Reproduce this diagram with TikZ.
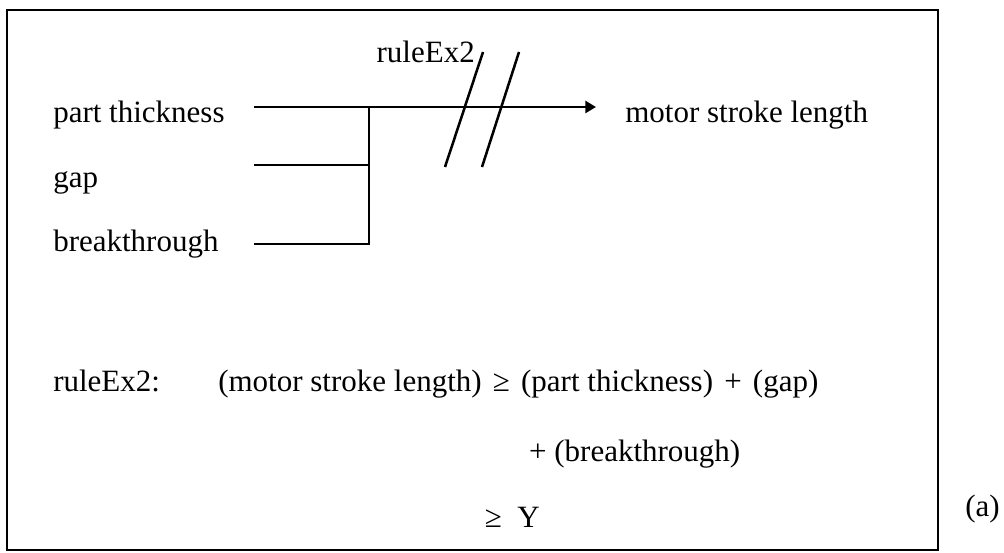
\documentclass[tikz,border=0pt]{standalone}
\usepackage{fontspec}
\setmainfont{Liberation Serif}
\usetikzlibrary{arrows.meta,positioning}
\tikzset{
  lbl/.style={inner sep=0pt, anchor=base west, font=\fontsize{23.25}{28}\selectfont},
  wire/.style={line width=1.9pt},
  boxline/.style={line width=1.9pt},
}
\begin{document}
\begin{tikzpicture}[x=0.75pt,y=-0.75pt]
    \useasboundingbox (0,0) rectangle (1004,553);
    \draw[boxline] (7,10) rectangle (938,550);

    \node[lbl] (thick) at (53,122) {part thickness};
    \node[lbl] (gap) at (53,187) {gap};
    \node[lbl] (brk) at (53,251) {breakthrough};
    \node[lbl] (stroke) at (625,122) {motor stroke length};
    \node[lbl, anchor=base east] (rulename) at (475,62) {ruleEx2};

    \coordinate (tin) at (254,107);
    \coordinate (gin) at (254,165);
    \coordinate (bin) at (254,244);
    \coordinate (join) at (369,107);
    \coordinate (tip) at (596,107);

    \draw[wire] (tin) -- (join);
    \draw[wire] (gin) -- (gin -| join);
    \draw[wire] (bin) -| (join);
    \draw[wire, -{Triangle[length=8pt,width=9pt]}] (join) -- (tip);
    \draw[wire] (445,167) -- (483,52);
    \draw[wire] (482,167) -- (519,52);

    \node[lbl] (rulelbl) at (53,391) {ruleEx2:};
    \node[lbl] (lhs) at (218,391) {(motor stroke length)};
    \node[lbl] (ge) at ([xshift=8pt]lhs.base east) {≥};
    \node[lbl] (rhsa) at ([xshift=8pt]ge.base east) {(part thickness)};
    \node[lbl] (plus) at ([xshift=8pt]rhsa.base east) {+};
    \node[lbl] (rhsb) at ([xshift=8pt]plus.base east) {(gap)};
    \node[lbl] (eqtwo) at ([xshift=6pt,yshift=-52.5pt]rhsa.base west) {+ (breakthrough)};
    \node[lbl] (eqthree) at ([xshift=-6pt,yshift=-102pt]ge.base west) {≥\enspace Y};
    \node[lbl] (tag) at (965,516) {(a)};
\end{tikzpicture}
\end{document}
